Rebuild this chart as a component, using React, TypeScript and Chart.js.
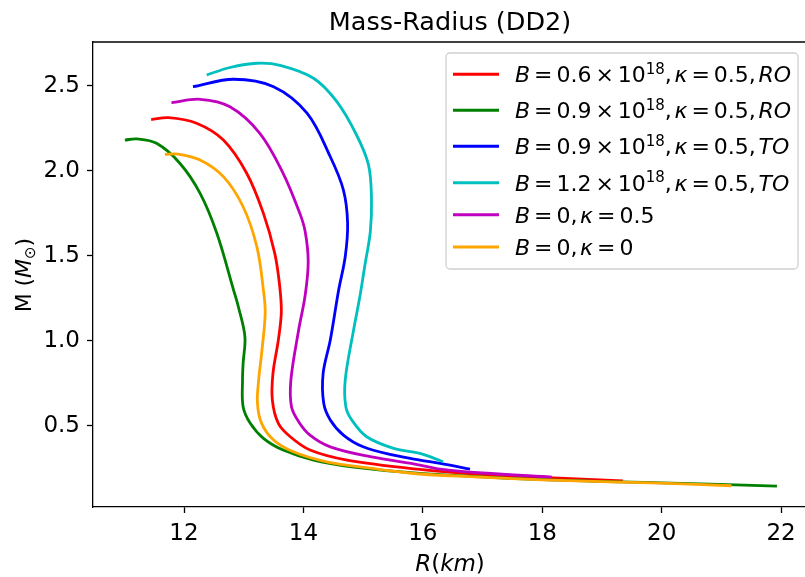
import React, { useEffect, useRef } from "react";
import { Chart, registerables } from "chart.js";

Chart.register(...registerables);

// ---------------- data ----------------
const chartTitle = "Mass-Radius (DD2)";
const xTicks = [12, 14, 16, 18, 20, 22];
const yTicks = [0.5, 1.0, 1.5, 2.0, 2.5];
const xMin = 10.476;
const xMax = 22.4;
const yMin = 0.022;
const yMax = 2.757;

// B = 0.6e18, kappa = 0.5, RO  (red)
const redR = [19.35, 18.0, 17.0, 15.95, 14.73, 14.11, 13.78, 13.58, 13.48, 13.49, 13.58, 13.63, 13.6, 13.52, 13.33, 13.05, 12.66, 12.21, 11.74, 11.45];
const redM = [0.176, 0.196, 0.212, 0.243, 0.298, 0.357, 0.435, 0.514, 0.65, 0.808, 1.004, 1.17, 1.33, 1.514, 1.749, 1.985, 2.18, 2.279, 2.312, 2.3];

// B = 0.9e18, kappa = 0.5, RO  (green)
const greenR = [21.93, 20.0, 18.0, 15.95, 14.84, 14.17, 13.66, 13.33, 13.11, 12.99, 12.98, 12.99, 13.02, 12.91, 12.83, 12.55, 12.27, 11.93, 11.54, 11.21, 11.01];
const greenM = [0.145, 0.164, 0.183, 0.22, 0.257, 0.298, 0.357, 0.426, 0.514, 0.612, 0.769, 0.867, 1.024, 1.2, 1.298, 1.632, 1.867, 2.044, 2.161, 2.187, 2.18];

// B = 0.9e18, kappa = 0.5, TO  (blue)
const blueR = [16.79, 16.29, 15.95, 15.51, 15.0, 14.67, 14.45, 14.34, 14.33, 14.45, 14.59, 14.7, 14.74, 14.67, 14.45, 14.06, 13.5, 12.83, 12.15];
const blueM = [0.245, 0.279, 0.298, 0.327, 0.376, 0.445, 0.534, 0.632, 0.808, 1.004, 1.298, 1.494, 1.69, 1.886, 2.082, 2.338, 2.494, 2.538, 2.494];

// B = 1.2e18, kappa = 0.5, TO  (cyan)
const cyanR = [16.34, 16.12, 15.95, 15.51, 15.06, 14.81, 14.71, 14.7, 14.84, 14.95, 15.03, 15.12, 15.14, 15.09, 14.89, 14.56, 14.17, 13.61, 13.22, 12.77, 12.38];
const cyanM = [0.288, 0.318, 0.338, 0.367, 0.435, 0.534, 0.612, 0.769, 1.063, 1.269, 1.445, 1.641, 1.838, 2.034, 2.21, 2.406, 2.544, 2.62, 2.632, 2.607, 2.563];

// B = 0, kappa = 0.5  (magenta)
const magentaR = [18.16, 17.0, 16.29, 15.95, 15.12, 14.45, 14.11, 13.92, 13.8, 13.79, 13.92, 14.03, 14.08, 14.03, 13.94, 13.66, 13.27, 12.77, 12.27, 11.79];
const magentaM = [0.198, 0.222, 0.245, 0.269, 0.318, 0.376, 0.445, 0.524, 0.612, 0.769, 1.063, 1.269, 1.465, 1.641, 1.749, 1.985, 2.22, 2.376, 2.42, 2.4];

// B = 0, kappa = 0  (orange)
const orangeR = [21.17, 20.0, 18.0, 17.0, 15.95, 15.12, 14.39, 13.83, 13.5, 13.3, 13.23, 13.25, 13.3, 13.36, 13.33, 13.22, 12.99, 12.66, 12.27, 11.9, 11.68];
const orangeM = [0.147, 0.162, 0.182, 0.197, 0.216, 0.25, 0.288, 0.347, 0.416, 0.514, 0.632, 0.769, 0.926, 1.161, 1.298, 1.553, 1.788, 1.965, 2.063, 2.098, 2.096];

// legend labels (mathtext-like segments: n normal, i italic, s superscript, b subscript, g gap in em)
type Seg = [string, string];
const legendLabels: Seg[][] = [
  [["B", "i"], ["0.18", "g"], ["=", "n"], ["0.18", "g"], ["0.6", "n"], ["0.18", "g"], ["×", "n"], ["0.18", "g"], ["10", "n"], ["18", "s"], [",", "n"], ["0.12", "g"], ["κ", "i"], ["0.18", "g"], ["=", "n"], ["0.18", "g"], ["0.5", "n"], [",", "n"], ["0.12", "g"], ["RO", "i"]],
  [["B", "i"], ["0.18", "g"], ["=", "n"], ["0.18", "g"], ["0.9", "n"], ["0.18", "g"], ["×", "n"], ["0.18", "g"], ["10", "n"], ["18", "s"], [",", "n"], ["0.12", "g"], ["κ", "i"], ["0.18", "g"], ["=", "n"], ["0.18", "g"], ["0.5", "n"], [",", "n"], ["0.12", "g"], ["RO", "i"]],
  [["B", "i"], ["0.18", "g"], ["=", "n"], ["0.18", "g"], ["0.9", "n"], ["0.18", "g"], ["×", "n"], ["0.18", "g"], ["10", "n"], ["18", "s"], [",", "n"], ["0.12", "g"], ["κ", "i"], ["0.18", "g"], ["=", "n"], ["0.18", "g"], ["0.5", "n"], [",", "n"], ["0.12", "g"], ["TO", "i"]],
  [["B", "i"], ["0.18", "g"], ["=", "n"], ["0.18", "g"], ["1.2", "n"], ["0.18", "g"], ["×", "n"], ["0.18", "g"], ["10", "n"], ["18", "s"], [",", "n"], ["0.12", "g"], ["κ", "i"], ["0.18", "g"], ["=", "n"], ["0.18", "g"], ["0.5", "n"], [",", "n"], ["0.12", "g"], ["TO", "i"]],
  [["B", "i"], ["0.18", "g"], ["=", "n"], ["0.18", "g"], ["0", "n"], [",", "n"], ["0.12", "g"], ["κ", "i"], ["0.18", "g"], ["=", "n"], ["0.18", "g"], ["0.5", "n"]],
  [["B", "i"], ["0.18", "g"], ["=", "n"], ["0.18", "g"], ["0", "n"], [",", "n"], ["0.12", "g"], ["κ", "i"], ["0.18", "g"], ["=", "n"], ["0.18", "g"], ["0", "n"]],
];
const xLabel: Seg[] = [["R", "i"], ["(", "n"], ["km", "i"], [")", "n"]];
const yLabel: Seg[] = [["M", "n"], ["0.3", "g"], ["(", "n"], ["M", "i"], ["⊙", "b"], [")", "n"]];

const seriesR = [redR, greenR, blueR, cyanR, magentaR, orangeR];
const seriesM = [redM, greenM, blueM, cyanM, magentaM, orangeM];
const seriesColors = ["#ff0000", "#008000", "#0000ff", "#00bfbf", "#bf00bf", "#ffa500"];

// ---------------- layout / style ----------------
const W = 805;
const H = 577;
const FONT = '"DejaVu Sans", sans-serif';
const TICK_SIZE = 23;
const TITLE_SIZE = 25.5;
const AXES_RIGHT = 807; // right spine lies just beyond the visible canvas
const LEG = { left: 446, top: 53, right: 798, bottom: 269, lineX0: 453, lineX1: 499, textX: 515, size: 22 };
const legendRowY = [74.3, 110.3, 146.3, 182.7, 214.7, 247];

function segFont(style: string, size: number) {
  if (style === "i") return `italic ${size}px ${FONT}`;
  if (style === "s" || style === "b") return `${Math.round(size * 0.7)}px ${FONT}`;
  return `${size}px ${FONT}`;
}

function richWidth(ctx: CanvasRenderingContext2D, segs: Seg[], size: number) {
  let w = 0;
  for (const [t, s] of segs) {
    if (s === "g") { w += parseFloat(t) * size; continue; }
    ctx.font = segFont(s, size);
    w += ctx.measureText(t).width;
  }
  return w;
}

function drawRich(ctx: CanvasRenderingContext2D, segs: Seg[], x: number, y: number, size: number) {
  let cx = x;
  for (const [t, s] of segs) {
    if (s === "g") { cx += parseFloat(t) * size; continue; }
    ctx.font = segFont(s, size);
    let dy = 0;
    if (s === "s") dy = -size * 0.38;
    if (s === "b") dy = size * 0.18;
    ctx.fillText(t, cx, y + dy);
    cx += ctx.measureText(t).width;
  }
}

const decorPlugin = {
  id: "decor",
  afterDraw(chart: any) {
    const ctx: CanvasRenderingContext2D = chart.ctx;
    const ca = chart.chartArea;
    ctx.save();
    // top spine
    ctx.strokeStyle = "#000";
    ctx.lineWidth = 1.3;
    ctx.beginPath();
    ctx.moveTo(ca.left - 0.65, ca.top);
    ctx.lineTo(ca.right, ca.top);
    ctx.stroke();

    // title, centred over the axes
    ctx.fillStyle = "#000";
    ctx.font = `${TITLE_SIZE}px ${FONT}`;
    ctx.textAlign = "center";
    ctx.textBaseline = "alphabetic";
    ctx.fillText(chartTitle, (ca.left + AXES_RIGHT) / 2, 29.5);

    // legend frame
    const r = 4;
    ctx.beginPath();
    ctx.moveTo(LEG.left + r, LEG.top);
    ctx.arcTo(LEG.right, LEG.top, LEG.right, LEG.bottom, r);
    ctx.arcTo(LEG.right, LEG.bottom, LEG.left, LEG.bottom, r);
    ctx.arcTo(LEG.left, LEG.bottom, LEG.left, LEG.top, r);
    ctx.arcTo(LEG.left, LEG.top, LEG.right, LEG.top, r);
    ctx.closePath();
    ctx.fillStyle = "rgba(255,255,255,0.8)";
    ctx.fill();
    ctx.strokeStyle = "#d0d0d0";
    ctx.lineWidth = 1.3;
    ctx.stroke();

    ctx.textAlign = "left";
    legendLabels.forEach((segs, i) => {
      const y = legendRowY[i];
      ctx.strokeStyle = seriesColors[i];
      ctx.lineWidth = 3;
      ctx.lineCap = "butt";
      ctx.beginPath();
      ctx.moveTo(LEG.lineX0, y);
      ctx.lineTo(LEG.lineX1, y);
      ctx.stroke();
      ctx.fillStyle = "#000";
      drawRich(ctx, segs, LEG.textX, y + 8, LEG.size);
    });

    // x label
    ctx.fillStyle = "#000";
    const xw = richWidth(ctx, xLabel, TICK_SIZE);
    drawRich(ctx, xLabel, (ca.left + AXES_RIGHT) / 2 - xw / 2, 571, TICK_SIZE);

    // y label
    ctx.save();
    ctx.translate(31, 275);
    ctx.rotate(-Math.PI / 2);
    const yw = richWidth(ctx, yLabel, TICK_SIZE - 1);
    drawRich(ctx, yLabel, -yw / 2, 0, TICK_SIZE - 1);
    ctx.restore();

    ctx.restore();
  },
};

export default function App() {
  const ref = useRef<HTMLCanvasElement | null>(null);
  useEffect(() => {
    const canvas = ref.current;
    if (!canvas) return;
    const datasets = seriesR.map((rs, i) => ({
      label: `series${i}`,
      data: rs.map((r, j) => ({ x: r, y: seriesM[i][j] })),
      borderColor: seriesColors[i],
      backgroundColor: seriesColors[i],
      borderWidth: 2.8,
      pointRadius: 0,
      showLine: true,
      tension: 0.35,
      fill: false,
      order: seriesR.length - i,
    }));
    const chart = new Chart(canvas, {
      type: "scatter",
      data: { datasets },
      options: {
        responsive: false,
        animation: false,
        devicePixelRatio: 1,
        layout: { padding: { left: 0, right: 0, top: 42, bottom: 0 } },
        plugins: {
          legend: { display: false },
          tooltip: { enabled: false },
          title: { display: false },
        },
        scales: {
          x: {
            type: "linear",
            min: xMin,
            max: xMax,
            afterFit: (s: any) => { s.height = 70; },
            afterBuildTicks: (s: any) => { s.ticks = xTicks.map((v) => ({ value: v })); },
            ticks: {
              color: "#000",
              font: { family: FONT, size: TICK_SIZE },
              padding: 7,
              maxRotation: 0,
              callback: (v: any) => String(v),
            },
            grid: { drawOnChartArea: false, drawTicks: true, tickLength: 6, tickWidth: 1.3, tickColor: "#000" },
            border: { display: true, color: "#000", width: 1.3 },
          },
          y: {
            type: "linear",
            min: yMin,
            max: yMax,
            afterFit: (s: any) => { s.width = 93; },
            afterBuildTicks: (s: any) => { s.ticks = yTicks.map((v) => ({ value: v })); },
            ticks: {
              color: "#000",
              font: { family: FONT, size: TICK_SIZE },
              padding: 7,
              callback: (v: any) => Number(v).toFixed(1),
            },
            grid: { drawOnChartArea: false, drawTicks: true, tickLength: 6, tickWidth: 1.3, tickColor: "#000" },
            border: { display: true, color: "#000", width: 1.3 },
          },
        },
      },
      plugins: [decorPlugin],
    });
    return () => chart.destroy();
  }, []);
  return (
    <div style={{ position: "fixed", left: 0, top: 0, width: W, height: H, background: "#fff" }}>
      <canvas ref={ref} width={W} height={H} style={{ display: "block", width: W, height: H }} />
    </div>
  );
}
